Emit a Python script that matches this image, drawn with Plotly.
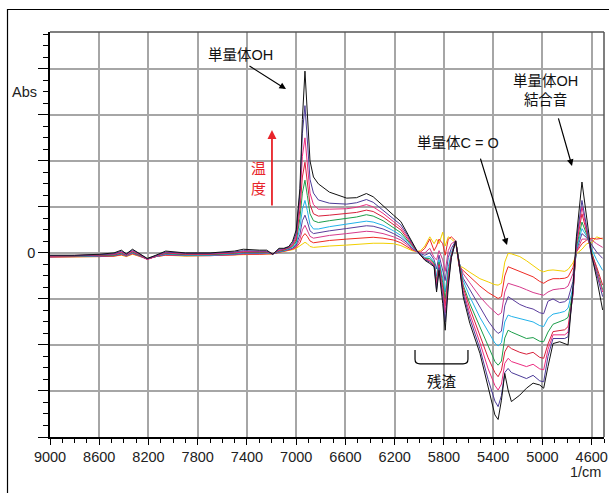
import plotly.graph_objects as go

wavenumber = [9000, 8800, 8600, 8480, 8420, 8380, 8330, 8280, 8210, 8140,
              8060, 7900, 7700, 7500, 7430, 7300, 7240, 7190, 7140, 7100,
              7060, 7030, 7000, 6970, 6950, 6929, 6910, 6888, 6860, 6820,
              6730, 6590, 6510, 6430, 6375, 6295, 6210, 6150, 6100, 6060,
              6022, 5990, 5955, 5915, 5880, 5860, 5840, 5810, 5790, 5765,
              5740, 5705, 5677, 5644, 5590, 5508, 5441, 5386, 5360, 5333,
              5306, 5279, 5252, 5184, 5130, 5076, 5022, 4990, 4955, 4914,
              4860, 4819, 4792, 4752, 4724, 4679, 4640, 4600, 4560, 4511]

abs_yellow = [-0.09, -0.09, -0.08, -0.07, -0.05, -0.08, -0.03, -0.07, -0.12, -0.08,
              -0.05, -0.07, -0.06, -0.05, -0.04, -0.03, -0.02, -0.02, 0.01, 0.03,
              0.05, 0.07, 0.1, 0.15, 0.2, 0.23, 0.2, 0.14, 0.12, 0.13,
              0.15, 0.17, 0.19, 0.2, 0.21, 0.21, 0.2, 0.16, 0.1, 0.05,
              0.03, 0.05, 0.15, 0.35, 0.2, 0.3, 0.2, 0.45, 0.15, 0.35,
              0.3, 0.22, -0.28, -0.32, -0.42, -0.56, -0.63, -0.69, -0.70, -0.66,
              -0.2, -0.01, -0.02, -0.08, -0.17, -0.27, -0.38, -0.41, -0.38, -0.37,
              -0.38, -0.4, -0.36, -0.22, -0.02, 0.08, 0.2, 0.22, 0.35, 0.3]

abs_red = [-0.09, -0.09, -0.08, -0.07, -0.04, -0.07, -0.02, -0.06, -0.13, -0.08,
           -0.05, -0.06, -0.06, -0.04, -0.03, -0.03, -0.02, -0.02, 0.01, 0.03,
           0.06, 0.08, 0.12, 0.22, 0.35, 0.42, 0.36, 0.26, 0.22, 0.24,
           0.27, 0.30, 0.32, 0.34, 0.34, 0.32, 0.28, 0.22, 0.14, 0.07,
           0.03, 0.02, 0.1, 0.3, 0.05, 0.15, 0.3, 0.2, -0.05, 0.3,
           0.35, 0.26, -0.3, -0.38, -0.5, -0.72, -0.86, -0.96, -0.99, -0.95,
           -0.5, -0.3, -0.33, -0.4, -0.45, -0.52, -0.62, -0.66, -0.6, -0.56,
           -0.56, -0.55, -0.52, -0.32, 0.02, 0.2, 0.28, 0.32, 0.3, 0.32]

abs_magenta = [-0.09, -0.08, -0.07, -0.06, -0.03, -0.07, -0.01, -0.06, -0.14, -0.08,
               -0.04, -0.06, -0.06, -0.04, -0.02, -0.02, -0.01, -0.02, 0.02, 0.04,
               0.07, 0.09, 0.14, 0.3, 0.5, 0.6, 0.5, 0.36, 0.32, 0.34,
               0.38, 0.42, 0.44, 0.47, 0.46, 0.42, 0.35, 0.28, 0.18, 0.09,
               0.03, 0.0, 0.0, 0.1, -0.1, -0.15, 0.05, -0.15, -0.4, 0.05,
               0.2, 0.26, -0.22, -0.45, -0.65, -0.95, -1.15, -1.3, -1.35, -1.3,
               -0.85, -0.66, -0.68, -0.74, -0.8, -0.86, -0.9, -0.92, -0.85, -0.8,
               -0.78, -0.77, -0.72, -0.45, 0.02, 0.3, 0.3, 0.28, 0.2, 0.12]

abs_purple = [-0.08, -0.08, -0.07, -0.06, -0.02, -0.06, 0.0, -0.05, -0.13, -0.08,
              -0.03, -0.05, -0.05, -0.03, -0.01, -0.01, 0.0, -0.02, 0.02, 0.04,
              0.08, 0.10, 0.17, 0.4, 0.7, 0.82, 0.68, 0.48, 0.42, 0.44,
              0.48, 0.53, 0.56, 0.59, 0.58, 0.52, 0.42, 0.33, 0.22, 0.11,
              0.04, -0.02, -0.05, 0.0, -0.15, -0.35, -0.05, -0.35, -0.6, -0.1,
              0.1, 0.26, -0.2, -0.55, -0.8, -1.2, -1.48, -1.68, -1.75, -1.7,
              -1.15, -0.95, -1.0, -1.12, -1.18, -1.22, -1.3, -1.32, -1.05, -1.0,
              -1.08, -1.06, -1.0, -0.62, 0.05, 0.42, 0.33, 0.18, 0.02, -0.12]

abs_cyan = [-0.08, -0.08, -0.06, -0.05, -0.01, -0.06, 0.01, -0.04, -0.13, -0.08,
            -0.02, -0.05, -0.05, -0.02, 0.0, 0.0, 0.0, -0.02, 0.03, 0.05,
            0.09, 0.12, 0.2, 0.55, 0.95, 1.14, 0.92, 0.62, 0.52, 0.52,
            0.57, 0.62, 0.65, 0.69, 0.67, 0.6, 0.48, 0.38, 0.25, 0.13,
            0.04, -0.03, -0.1, -0.08, -0.2, -0.5, -0.15, -0.55, -0.85, -0.3,
            0.0, 0.26, -0.2, -0.6, -0.95, -1.4, -1.72, -1.96, -2.02, -1.95,
            -1.5, -1.35, -1.38, -1.42, -1.46, -1.5, -1.58, -1.6, -1.42, -1.33,
            -1.3, -1.27, -1.2, -0.75, 0.08, 0.53, 0.36, 0.08, -0.15, -0.38]

abs_green = [-0.08, -0.07, -0.06, -0.05, 0.0, -0.05, 0.02, -0.04, -0.13, -0.07,
             -0.01, -0.04, -0.04, -0.01, 0.01, 0.01, 0.01, -0.02, 0.04, 0.06,
             0.10, 0.14, 0.25, 0.75, 1.3, 1.58, 1.25, 0.85, 0.7, 0.66,
             0.7, 0.75, 0.78, 0.83, 0.8, 0.7, 0.55, 0.44, 0.28, 0.15,
             0.05, -0.04, -0.12, -0.12, -0.22, -0.6, -0.2, -0.65, -1.0, -0.4,
             -0.05, 0.26, -0.2, -0.7, -1.1, -1.62, -2.05, -2.36, -2.44, -2.35,
             -1.85, -1.68, -1.72, -1.8, -1.86, -1.84, -1.92, -1.93, -1.72, -1.55,
             -1.5, -1.45, -1.4, -0.85, 0.12, 0.67, 0.4, 0.0, -0.35, -0.8]

abs_crimson = [-0.07, -0.07, -0.05, -0.04, 0.01, -0.05, 0.03, -0.03, -0.14, -0.07,
               0.0, -0.03, -0.03, 0.0, 0.02, 0.02, 0.02, -0.02, 0.05, 0.07,
               0.11, 0.16, 0.3, 0.95, 1.65, 1.97, 1.55, 1.05, 0.85, 0.8,
               0.82, 0.85, 0.88, 0.93, 0.9, 0.78, 0.62, 0.5, 0.32, 0.17,
               0.05, -0.05, -0.13, -0.16, -0.25, -0.65, -0.25, -0.75, -1.15, -0.5,
               -0.05, 0.26, -0.2, -0.75, -1.2, -1.8, -2.28, -2.6, -2.69, -2.55,
               -2.15, -2.02, -2.08, -2.16, -2.2, -2.16, -2.27, -2.29, -1.98, -1.71,
               -1.68, -1.67, -1.6, -0.9, 0.18, 0.85, 0.45, -0.02, -0.3, -0.7]

abs_pink = [-0.07, -0.06, -0.05, -0.03, 0.02, -0.04, 0.04, -0.02, -0.14, -0.07,
            0.01, -0.02, -0.02, 0.01, 0.03, 0.03, 0.03, -0.02, 0.06, 0.08,
            0.12, 0.18, 0.35, 1.15, 2.1, 2.5, 1.95, 1.3, 1.05, 0.95,
            0.95, 0.96, 0.99, 1.05, 1.0, 0.86, 0.68, 0.55, 0.36, 0.19,
            0.05, -0.05, -0.14, -0.18, -0.27, -0.7, -0.28, -0.85, -1.3, -0.55,
            -0.08, 0.26, -0.2, -0.82, -1.32, -1.95, -2.52, -2.88, -2.98, -2.85,
            -2.4, -2.29, -2.36, -2.42, -2.47, -2.42, -2.52, -2.54, -2.1, -1.78,
            -1.78, -1.78, -1.72, -0.9, 0.22, 1.0, 0.5, -0.05, -0.4, -0.85]

abs_indigo = [-0.06, -0.06, -0.04, -0.02, 0.04, -0.03, 0.06, -0.01, -0.13, -0.06,
              0.02, -0.01, -0.01, 0.02, 0.05, 0.04, 0.04, -0.03, 0.08, 0.09,
              0.13, 0.21, 0.42, 1.3, 2.6, 3.2, 2.4, 1.6, 1.3, 1.15,
              1.08, 1.06, 1.09, 1.16, 1.1, 0.93, 0.75, 0.61, 0.4, 0.22,
              0.05, -0.05, -0.15, -0.2, -0.28, -0.8, -0.32, -0.95, -1.5, -0.65,
              -0.1, 0.26, -0.22, -0.88, -1.42, -2.08, -2.75, -3.22, -3.34, -3.1,
              -2.6, -2.51, -2.6, -2.68, -2.73, -2.66, -2.78, -2.8, -2.25, -1.86,
              -1.86, -1.86, -1.82, -0.85, 0.28, 1.14, 0.55, -0.1, -0.45, -0.95]

abs_black = [-0.05, -0.05, -0.03, 0.0, 0.06, -0.02, 0.08, 0.0, -0.12, -0.05,
             0.04, 0.0, 0.0, 0.04, 0.08, 0.06, 0.06, -0.03, 0.1, 0.1,
             0.14, 0.25, 0.5, 1.4, 2.9, 3.95, 2.9, 2.0, 1.65, 1.5,
             1.32, 1.19, 1.2, 1.29, 1.22, 1.02, 0.82, 0.68, 0.45, 0.25,
             0.06, -0.05, -0.16, -0.23, -0.3, -0.85, -0.38, -1.1, -1.68, -0.74,
             -0.1, 0.26, -0.23, -0.95, -1.53, -2.18, -2.91, -3.52, -3.62, -3.2,
             -2.62, -2.98, -3.23, -3.09, -2.94, -2.83, -2.87, -2.94, -2.47, -1.97,
             -1.93, -1.97, -2.0, -0.74, 0.35, 1.54, 0.7, -0.05, -0.55, -1.24]

series = [
    (abs_yellow, "#f2cf00"),
    (abs_red, "#ee2a24"),
    (abs_magenta, "#d63a8c"),
    (abs_purple, "#5a3c9c"),
    (abs_cyan, "#22b2ea"),
    (abs_green, "#1c9e4a"),
    (abs_crimson, "#d81f3a"),
    (abs_pink, "#ec2c80"),
    (abs_indigo, "#4b3b98"),
    (abs_black, "#111111"),
]

xticks = [9000, 8600, 8200, 7800, 7400, 7000, 6600, 6200, 5800, 5400, 5000, 4600]
yticks = [-4, -3, -2, -1, 0, 1, 2, 3, 4]
ytext = ["", "", "", "", "0", "", "", "", ""]

fig = go.Figure()
for vals, col in series:
    assert len(vals) == len(wavenumber)
    fig.add_trace(go.Scatter(x=wavenumber, y=vals, mode="lines",
                             line=dict(color=col, width=1), showlegend=False,
                             hoverinfo="skip"))

tickfont = dict(family="Liberation Sans, Arial, sans-serif", size=14.5, color="#222")
jfont = dict(family="Liberation Sans, Noto Sans CJK JP, sans-serif", size=14.5, color="#111")

fig.update_layout(
    width=609, height=493,
    margin=dict(l=50, r=5, t=32, b=56, autoexpand=False),
    paper_bgcolor="white", plot_bgcolor="white",
    xaxis=dict(range=[9000, 4500], tickmode="array", tickvals=xticks,
               ticktext=[str(v) for v in xticks], ticks="outside", ticklen=6,
               tickwidth=1.3, tickcolor="black", showline=True, linecolor="black",
               linewidth=1.5, showgrid=True, gridcolor="#a6a6a6", gridwidth=2,
               zeroline=False, tickfont=tickfont,
               minor=dict(tickmode="linear", tick0=0, dtick=100, ticks="outside",
                          ticklen=4, tickwidth=1.2, tickcolor="black", showgrid=False)),
    yaxis=dict(range=[-4, 4.8], tickmode="array", tickvals=yticks, ticktext=ytext,
               ticks="outside", ticklen=10, tickwidth=1.3, tickcolor="black",
               showline=True, linecolor="black", linewidth=1.5, showgrid=True,
               gridcolor="#a6a6a6", gridwidth=2, zeroline=False, tickfont=tickfont,
               minor=dict(tickmode="linear", tick0=0, dtick=0.25, ticks="outside",
                          ticklen=5, tickwidth=1.2, tickcolor="black", showgrid=False)),
)

# borders
fig.add_shape(type="line", xref="paper", yref="paper", x0=0, x1=1, y0=1, y1=1,
              line=dict(color="#555", width=1.5))
fig.add_shape(type="line", xref="paper", yref="paper", x0=1, x1=1, y0=0, y1=1,
              line=dict(color="#555", width=1.5))
# outer frame
fig.add_shape(type="rect", xref="paper", yref="paper", x0=-0.0767, x1=1.03,
              y0=-0.2, y1=1.0556, line=dict(color="black", width=1.2))

# residue bracket
fig.add_shape(type="path", xref="x", yref="y",
              path="M 6035,-2.11 L 6035,-2.31 Q 6035,-2.41 5995,-2.41 L 5645,-2.41 "
                   "Q 5605,-2.41 5605,-2.31 L 5605,-2.11",
              line=dict(color="black", width=1.2))

ann = []
ann.append(dict(x=0, y=3.5, xref="paper", yref="y", text="Abs", showarrow=False,
                xanchor="right", xshift=-11, font=tickfont))
ann.append(dict(x=1, y=0, xref="paper", yref="paper", text="1/cm", showarrow=False,
                xanchor="right", yanchor="top", yshift=-25, xshift=-1, font=tickfont))
ann.append(dict(x=7449, y=4.3, text="単量体OH", showarrow=False, font=jfont))
ann.append(dict(x=7083, y=3.56, text="", showarrow=True, arrowhead=2, arrowsize=1.1,
                arrowwidth=1.2, arrowcolor="black", ax=-38, ay=-24))
ann.append(dict(x=7310, y=1.63, text="温<br>度", showarrow=False,
                font=dict(family="Noto Sans CJK JP, sans-serif", size=15, color="#e8242a")))
ann.append(dict(x=7197, y=2.67, text="", showarrow=True, arrowhead=2, arrowsize=1,
                arrowwidth=1.8, arrowcolor="#e8242a", ax=0, ay=77))
ann.append(dict(x=5686, y=2.39, text="単量体C = O", showarrow=False, font=jfont))
ann.append(dict(x=5288, y=0.17, text="", showarrow=True, arrowhead=2, arrowsize=1.1,
                arrowwidth=1.2, arrowcolor="black", ax=-27, ay=-88))
ann.append(dict(x=4979, y=3.52, text="単量体OH<br>結合音", showarrow=False, font=jfont))
ann.append(dict(x=4760, y=1.89, text="", showarrow=True, arrowhead=2, arrowsize=1.1,
                arrowwidth=1.2, arrowcolor="black", ax=-14, ay=-49))
ann.append(dict(x=5818, y=-2.8, text="残渣", showarrow=False, font=jfont))
fig.update_layout(annotations=ann)

# remove the default 8px page margin so the figure fills the window exactly
fig.write_html("out.html",
               config={"displayModeBar": False},
               post_script="document.body.style.margin='0';"
                           "document.body.style.overflow='hidden';")
